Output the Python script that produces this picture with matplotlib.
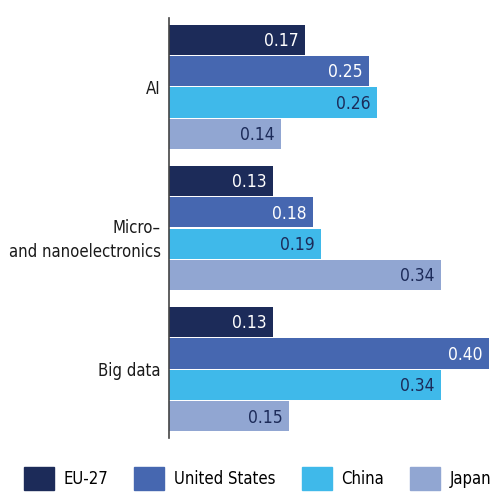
import numpy as np
import matplotlib.pyplot as plt
from matplotlib import font_manager
from matplotlib.transforms import ScaledTranslation

categories = ["AI", "Micro–\nand nanoelectronics", "Big data"]
series = ["EU-27", "United States", "China", "Japan"]
eu27 = [0.17, 0.13, 0.13]
united_states = [0.25, 0.18, 0.40]
china = [0.26, 0.19, 0.34]
japan = [0.14, 0.34, 0.15]

colors = ["#1c2b59", "#4667b0", "#3fb9ea", "#91a6d2"]
text_colors = ["white", "white", "#1c2b59", "#1c2b59"]

# look for a narrow face; fall back to a smaller regular one
fonts = font_manager.fontManager.ttflist
narrow = [f for f in fonts if ("Condensed" in f.fname or "Narrow" in f.fname)
          and "Bold" not in f.fname and "Oblique" not in f.fname and "Italic" not in f.fname]
if narrow:
    fp = font_manager.FontProperties(fname=narrow[0].fname)
    fs = 12
else:
    fp = font_manager.FontProperties(family="DejaVu Sans")
    fs = 10.5

values = [eu27, united_states, china, japan]
step = 4.5
centers = np.arange(len(categories)) * step
offsets = [-1.5, -0.5, 0.5, 1.5]

fig = plt.figure(figsize=(4.94, 4.94), dpi=100)
ax = fig.add_axes([169 / 494, 1 - 438 / 494, 320 / 494, 420 / 494])

for vals, off, col, tcol in zip(values, offsets, colors, text_colors):
    ys = centers + off
    ax.barh(ys, vals, height=0.96, color=col)
    for y, v in zip(ys, vals):
        ax.text(v - 0.008, y + 0.04, f"{v:.2f}", ha="right", va="center",
                color=tcol, fontproperties=fp, fontsize=fs + 0.5)

ax.set_xlim(0, 0.40)
ax.set_ylim(centers[-1] + 2.19, centers[0] - 2.19)
ax.set_yticks(centers)
ax.tick_params(axis="y", length=0, pad=6)
ax.set_yticklabels(categories, color="#1a1a1a", linespacing=1.45)
for lab in ax.get_yticklabels():
    lab.set_fontproperties(fp)
    lab.set_fontsize(fs)
# two-line label sits slightly below the group centre in the original
lab = ax.get_yticklabels()[1]
lab.set_transform(lab.get_transform() + ScaledTranslation(0, -0.07, fig.dpi_scale_trans))
ax.set_xticks([])
for s in ["top", "right", "bottom"]:
    ax.spines[s].set_visible(False)
ax.spines["left"].set_color("#444444")
ax.spines["left"].set_linewidth(1.2)

handles = [plt.Rectangle((0, 0), 1, 1, color=c) for c in colors]
leg_fp = fp.copy()
leg_fp.set_size(fs)
fig.legend(handles, series, loc="lower left", bbox_to_anchor=(0.018, -0.022),
           ncol=4, frameon=False, prop=leg_fp, handlelength=1.8,
           handleheight=1.7, handletextpad=0.55, columnspacing=1.6)

fig.savefig("out.png", dpi=100)
